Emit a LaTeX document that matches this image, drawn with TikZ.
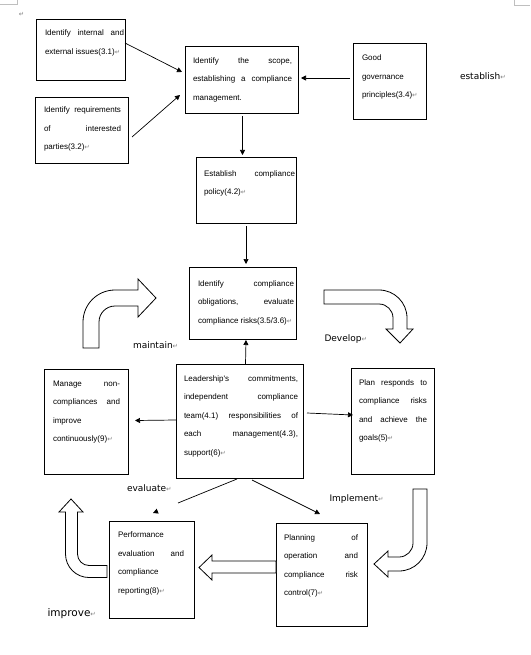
\documentclass[tikz,border=0pt]{standalone}
\usepackage{fontspec}
\usetikzlibrary{arrows.meta,calc}
\newfontfamily\boxfont{Liberation Sans}
\newfontfamily\labfont{DejaVu Sans}
\newfontfamily\symfont{DejaVu Sans}
\newcommand\retmark{{\symfont\fontsize{6.5}{18.5}\selectfont\textcolor{gray}{↵}}}
\tikzset{
  box/.style={draw=black, line width=0.8pt, inner sep=0pt, outer sep=0pt},
  txt/.style={inner sep=0pt, outer sep=0pt, anchor=north west, align=justify,
    font={\boxfont\fontsize{8}{18.5}\selectfont\hyphenpenalty=10000\tolerance=10000\hbadness=10000}},
  lab/.style={inner sep=0pt, outer sep=0pt, anchor=base west,
    font={\labfont\fontsize{9}{11}\selectfont}},
  conn/.style={line width=0.7pt, -{Triangle[length=5pt,width=5pt]}},
  blockarrow/.style={draw=black, fill=white, line width=0.8pt, line join=miter},
  pagemark/.style={draw=gray!50, line width=0.6pt}
}
\newcommand\st{\rule{0pt}{6pt}}
\begin{document}
\begin{tikzpicture}[x=1pt,y=-1pt]
\useasboundingbox (0,0) rectangle (530,655);
\fill[white] (0,0) rectangle (530,655);

% page marks
\draw[pagemark] (0,4.5) -- (17,4.5) -- (17,0);
\draw[pagemark] (514,0) -- (514,5) -- (530,5);
\node[inner sep=0pt, anchor=center] (topret) at (21.5,14.5) {\retmark};

% boxes
\node[box, minimum width=89, minimum height=61] (A) at (80.5,49.5) {};
\node[box, minimum width=93, minimum height=66] (B) at (81.5,130) {};
\node[box, minimum width=113, minimum height=67] (C) at (241.5,79.5) {};
\node[box, minimum width=73, minimum height=76] (D) at (389.5,81) {};
\node[box, minimum width=100, minimum height=66] (E) at (246,190) {};
\node[box, minimum width=107, minimum height=72] (F) at (242.5,303) {};
\node[box, minimum width=127, minimum height=114] (G) at (239.5,421) {};
\node[box, minimum width=84, minimum height=105] (H) at (86,421.5) {};
\node[box, minimum width=83, minimum height=106] (I) at (392.5,421) {};
\node[box, minimum width=91, minimum height=103] (J) at (321.5,574.5) {};
\node[box, minimum width=85, minimum height=97] (K) at (151.5,569.5) {};

% box texts
\node[txt, text width=79] (At) at ($(A.north west)+(9,11)$)
  {\st Identify internal and\linebreak external issues(3.1)\retmark};
\node[txt, text width=77] (Bt) at ($(B.north west)+(9,10)$)
  {\st Identify requirements\linebreak of interested\linebreak parties(3.2)\retmark};
\node[txt, text width=99] (Ct) at ($(C.north west)+(8,11.5)$)
  {\st Identify the scope,\linebreak establishing a compliance\linebreak management.};
\node[txt, text width=60] (Dt) at ($(D.north west)+(9,12)$)
  {\st Good\linebreak governance\linebreak principles(3.4)\retmark};
\node[txt, text width=91] (Et) at ($(E.north west)+(8,13)$)
  {\st Establish compliance\linebreak policy(4.2)\retmark};
\node[txt, text width=96] (Ft) at ($(F.north west)+(9,13)$)
  {\st Identify compliance\linebreak obligations, evaluate\linebreak compliance risks(3.5/3.6)\retmark};
\node[txt, text width=114] (Gt) at ($(G.north west)+(8,11)$)
  {\st Leadership's commitments,\linebreak independent compliance\linebreak team(4.1) responsibilities of\linebreak each management(4.3),\linebreak support(6)\retmark};
\node[txt, text width=67] (Ht) at ($(H.north west)+(9,11)$)
  {\st Manage non-\linebreak compliances and\linebreak improve\linebreak continuously(9)\retmark};
\node[txt, text width=68] (It) at ($(I.north west)+(8,11)$)
  {\st Plan responds to\linebreak compliance risks\linebreak and achieve the\linebreak goals(5)\retmark};
\node[txt, text width=74] (Jt) at ($(J.north west)+(8,11)$)
  {\st Planning of\linebreak operation and\linebreak compliance risk\linebreak control(7)\retmark};
\node[txt, text width=66] (Kt) at ($(K.north west)+(9,10.5)$)
  {\st Performance\linebreak evaluation and\linebreak compliance\linebreak reporting(8)\retmark};

% labels
\node[lab] (Lest) at (460,80) {establish\retmark};
\node[lab] (Lmaint) at (133,348.5) {maintain\retmark};
\node[lab] (Ldev) at (324.5,341) {Develop\retmark};
\node[lab] (Leval) at (127,491.5) {evaluate\retmark};
\node[lab] (Limpl) at (329.5,501) {Implement\retmark};
\node[lab, font={\labfont\fontsize{10.5}{12}\selectfont}] (Limpr) at (47.5,616) {improve\retmark};

% connectors
\draw[conn] ($(A.east)+(0,-6.5)$) -- ($(C.west)+(-3,-7.5)$);
\draw[conn] ($(B.east)+(4,7)$) -- ($(C.west)+(-5,15.5)$);
\draw[conn] ($(D.west)+(-3,-3)$) -- ($(C.east)+(3,-1.5)$);
\draw[conn] ($(C.south)+(1,3)$) -- ($(E.north)+(-3.5,-2)$);
\draw[conn] ($(E.south)+(0,3)$) -- ($(F.north)+(3.5,-3)$);
\draw[conn] ($(G.north)+(6,0)$) -- ($(F.south)+(3.5,1)$);
\draw[conn] ($(G.west)+(0,-1)$) -- ($(H.east)+(7,-1)$);
\draw[conn] ($(G.east)+(4,-8)$) -- ($(I.west)+(2,-6)$);
\draw[conn] ($(G.south)+(12.5,2)$) -- ($(J.north)+(-1.5,-9)$);
\coordinate (gk1) at ($(G.south)+(-2.5,1)$);
\coordinate (gk2) at ($(K.north)+(26.5,-18)$);
\coordinate (gk3) at ($(K.north)+(6.2,-9.9)$);
\coordinate (gk4) at ($(K.north)+(1.5,-8)$);
\draw[line width=0.7pt] (gk1) -- (gk2);
\draw[conn] (gk3) -- (gk4);

% block arrows
% maintain (H -> F)
\path[blockarrow] (83,348) -- (83,322) arc[start angle=180, end angle=270, radius=32]
  -- (138,290) -- (138,279) -- (156,298) -- (138,317) -- (138,306) -- (115,306)
  arc[start angle=270, end angle=180, radius=16] -- (99,348) -- cycle;
% develop (F -> I)
\path[blockarrow] (324,290) -- (379,290) arc[start angle=270, end angle=360, radius=28]
  -- (407,329) -- (413,329) -- (400,343) -- (386,329) -- (393,329) -- (393,318)
  arc[start angle=0, end angle=-90, radius=14] -- (324,304) -- cycle;
% implement (I -> J)
\path[blockarrow] (413,489) -- (427,489) -- (427,543) arc[start angle=0, end angle=90, radius=28]
  -- (388,571) -- (388,577) -- (374,564) -- (388,551) -- (388,557) -- (399,557)
  arc[start angle=90, end angle=0, radius=14] -- cycle;
% J -> K
\path[blockarrow] (J.west |- 0,561) -- (212,561) -- (212,555) -- (199,567.5) -- (212,580)
  -- (212,573) -- (J.west |- 0,573) -- cycle;
% improve (K -> H)
\path[blockarrow] (107,577.5) -- (89,577.5) arc[start angle=90, end angle=180, radius=23.5]
  -- (65.5,512) -- (59,512) -- (71,499) -- (83,512) -- (77.5,512) -- (77.5,554)
  arc[start angle=180, end angle=90, radius=11.5] -- (107,565.5) -- cycle;
\end{tikzpicture}
\end{document}
